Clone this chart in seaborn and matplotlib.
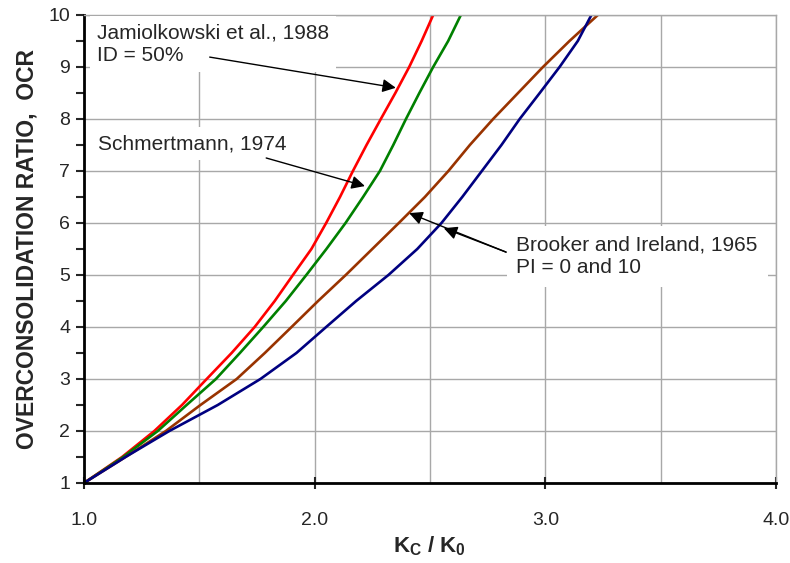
import pandas as pd
import seaborn as sns
import matplotlib.pyplot as plt
from matplotlib.ticker import MultipleLocator

# OCR values shared by every curve, and Kc/K0
ocr = [1, 1.5, 2, 2.5, 3, 3.5, 4, 4.5, 5, 5.5, 6, 6.5, 7, 7.5, 8, 8.5, 9, 9.5, 10]
jamiolkowski_x = [1.0, 1.165, 1.305, 1.425, 1.532, 1.64, 1.74, 1.827, 1.906, 1.986,
                  2.05, 2.11, 2.166, 2.225, 2.287, 2.35, 2.41, 2.464, 2.514]
schmertmann_x = [1.0, 1.17, 1.32, 1.445, 1.572, 1.676, 1.777, 1.875, 1.964, 2.051,
                 2.134, 2.21, 2.283, 2.341, 2.396, 2.454, 2.514, 2.579, 2.634]
brooker_pi0_x = [1.0, 1.18, 1.355, 1.505, 1.662, 1.784, 1.90, 2.015, 2.135, 2.25,
                 2.365, 2.478, 2.58, 2.673, 2.774, 2.882, 2.99, 3.105, 3.228]
brooker_pi10_x = [1.0, 1.18, 1.37, 1.58, 1.765, 1.921, 2.05, 2.18, 2.32, 2.445,
                  2.55, 2.64, 2.725, 2.81, 2.889, 2.976, 3.062, 3.141, 3.20]

series = {
    "Jamiolkowski": jamiolkowski_x,
    "Schmertmann": schmertmann_x,
    "Brooker PI=0": brooker_pi0_x,
    "Brooker PI=10": brooker_pi10_x,
}
colors = {
    "Jamiolkowski": "#FF0000",
    "Schmertmann": "#008000",
    "Brooker PI=0": "#993300",
    "Brooker PI=10": "#000080",
}

df = pd.concat(
    [pd.DataFrame({"kc_k0": xs, "ocr": ocr, "curve": name}) for name, xs in series.items()],
    ignore_index=True,
)

sns.set_style("white")
plt.rcParams["font.family"] = ["Liberation Sans", "DejaVu Sans"]
plt.rcParams["mathtext.fontset"] = "custom"
plt.rcParams["mathtext.rm"] = "Liberation Sans"
plt.rcParams["mathtext.bf"] = "Liberation Sans:bold"

fig = plt.figure(figsize=(7.9, 5.63), dpi=100)
ax = fig.add_axes([0.1063, 0.1421, 0.8759, 0.8313])

sns.lineplot(data=df, x="kc_k0", y="ocr", hue="curve", palette=colors,
             sort=False, estimator=None, linewidth=1.9, legend=False, ax=ax)
for line in ax.lines:
    line.set_solid_joinstyle("round")

ax.set_xlim(1.0, 4.0)
ax.set_ylim(1, 10)
ax.xaxis.set_major_locator(MultipleLocator(1.0))
ax.xaxis.set_minor_locator(MultipleLocator(0.5))
ax.yaxis.set_major_locator(MultipleLocator(1))
ax.yaxis.set_minor_locator(MultipleLocator(0.5))
ax.xaxis.set_major_formatter(lambda v, _: f"{v:.1f}")

ax.grid(True, which="major", axis="y", color="#a8a8a8", linewidth=1)
ax.grid(True, which="both", axis="x", color="#a8a8a8", linewidth=1)
ax.set_axisbelow(True)

for side in ("top", "right"):
    ax.spines[side].set_color("#a8a8a8")
    ax.spines[side].set_linewidth(1)
for side in ("left", "bottom"):
    ax.spines[side].set_color("black")
    ax.spines[side].set_linewidth(2)

ax.tick_params(axis="y", which="major", direction="out", length=6, width=1.5,
               left=True, labelsize=14, pad=4)
ax.tick_params(axis="y", which="minor", direction="out", length=6, width=1.5, left=True)
ax.tick_params(axis="x", which="major", direction="inout", length=8, width=1.5,
               bottom=True, labelsize=14, pad=17)
ax.tick_params(axis="x", which="minor", length=0)

ax.set_xlabel(r"K$_\mathbf{C}$ / K$_\mathbf{0}$", fontsize=16, fontweight="bold", labelpad=4)
ax.set_ylabel("OVERCONSOLIDATION RATIO,  OCR", fontsize=16.5, fontweight="bold", labelpad=7)

box = dict(facecolor="white", edgecolor="none", pad=5)
ax.text(1.055, 9.84, "Jamiolkowski et al., 1988\nID = 50%", fontsize=15,
        va="top", ha="left", linespacing=1.25, bbox=box, zorder=5)
ax.text(1.06, 7.71, "Schmertmann, 1974", fontsize=15, va="top", ha="left",
        bbox=box, zorder=5)
ax.text(2.875, 5.76, "Brooker and Ireland, 1965\nPI = 0 and 10", fontsize=15,
        va="top", ha="left", linespacing=1.25,
        bbox=dict(facecolor="white", edgecolor="none", pad=7), zorder=5, clip_on=False)

arrow = dict(arrowstyle="-|>", color="black", lw=1, mutation_scale=20, shrinkA=0, shrinkB=0)
ax.annotate("", xy=(2.352, 8.60), xytext=(1.545, 9.19), arrowprops=arrow, zorder=6)
ax.annotate("", xy=(2.218, 6.71), xytext=(1.79, 7.25), arrowprops=arrow, zorder=6)
ax.annotate("", xy=(2.41, 6.19), xytext=(2.83, 5.44), arrowprops=arrow, zorder=6)
ax.annotate("", xy=(2.56, 5.90), xytext=(2.83, 5.44), arrowprops=arrow, zorder=6)

fig.savefig("out.png", dpi=100)
